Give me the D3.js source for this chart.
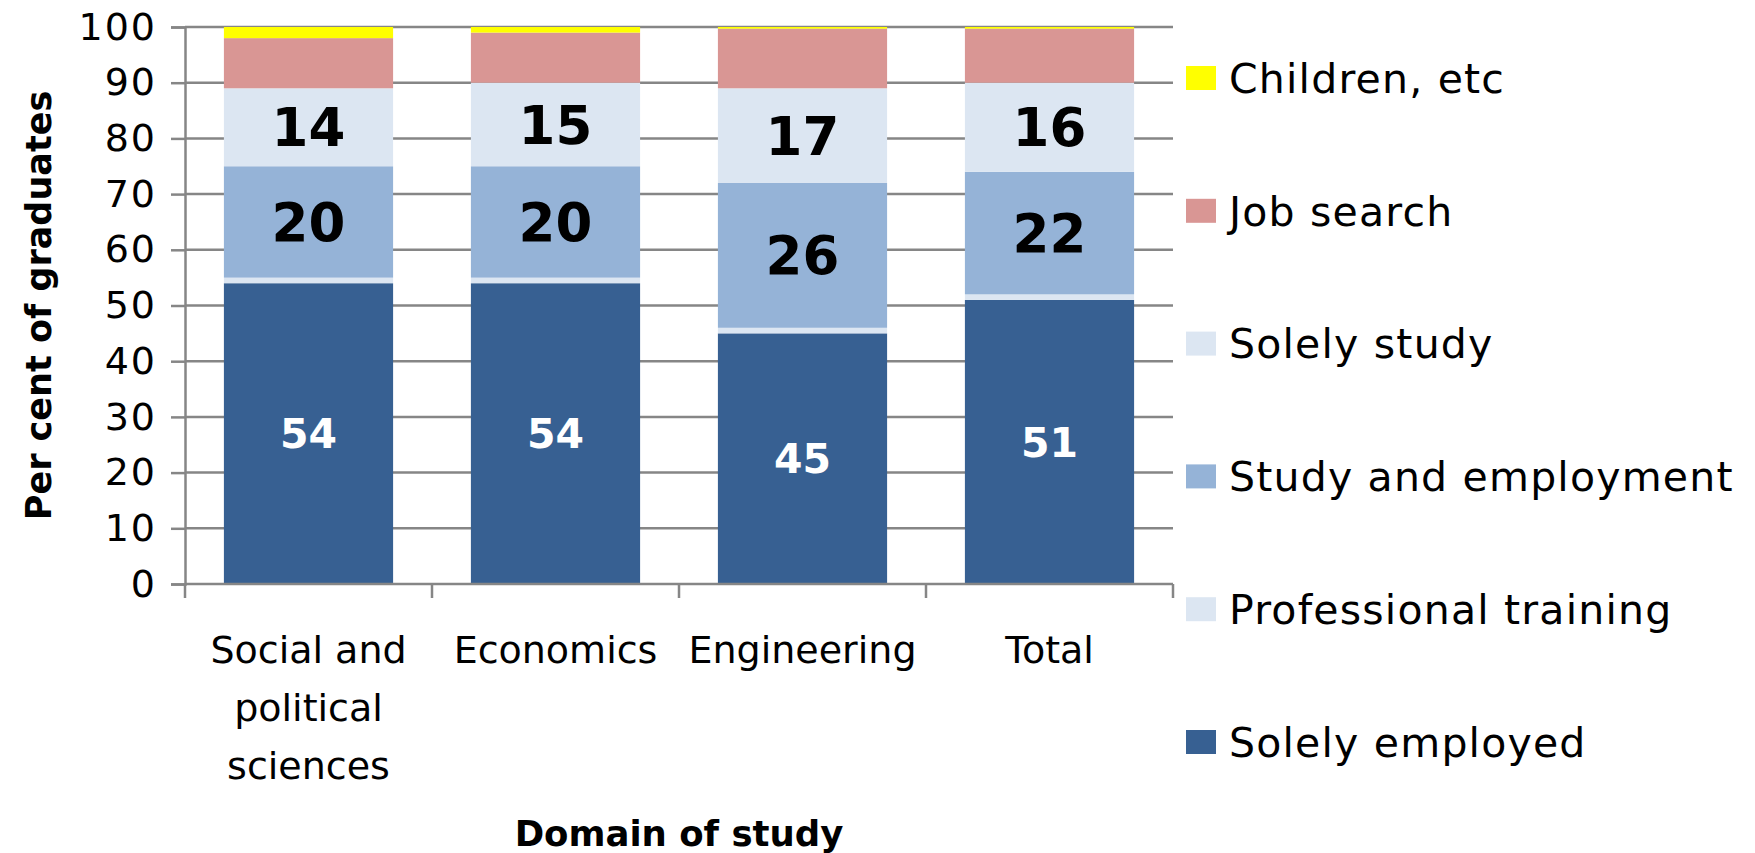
<!DOCTYPE html>
<html>
<head>
<meta charset="utf-8">
<script src="https://cdn.jsdelivr.net/npm/d3@7"></script>
<style>
  body { margin: 0; background: #fff; }
  text { font-family: "DejaVu Sans", sans-serif; }
</style>
</head>
<body>
<svg id="chart"></svg>
<script>
// categories and series (per cent of graduates)
var categories = ["Social and political sciences", "Economics", "Engineering", "Total"];
var solelyEmployed = [54, 54, 45, 51];
var professionalTraining = [1, 1, 1, 1];
var studyAndEmployment = [20, 20, 26, 22];
var solelyStudy = [14, 15, 17, 16];
var jobSearch = [9, 9, 10.7, 9.7];
var children = [2, 1, 0.3, 0.3];
var yTicks = [0, 10, 20, 30, 40, 50, 60, 70, 80, 90, 100];

var seriesNames = ["Solely employed", "Professional training", "Study and employment",
                   "Solely study", "Job search", "Children, etc"];
var seriesValues = [solelyEmployed, professionalTraining, studyAndEmployment,
                    solelyStudy, jobSearch, children];
var colors = ["#376092", "#dce6f2", "#95b3d7", "#dce6f2", "#d99694", "#ffff00"];
var labelled = { "Solely employed": "white", "Study and employment": "black", "Solely study": "black" };

var svg = d3.select("#chart")
    .attr("width", 1755)
    .attr("height", 853);

var pl = 185, pt = 27, pr = 1173, pb = 584;

var rows = categories.map(function(c, i) {
    var r = { cat: c };
    seriesNames.forEach(function(s, j) { r[s] = seriesValues[j][i]; });
    return r;
});

var stacked = d3.stack().keys(seriesNames)(rows);

var xScale = d3.scaleBand().domain(categories).range([pl, pr])
    .paddingInner(0.315).paddingOuter(0.1575);
var yScale = d3.scaleLinear().domain([0, 100]).range([pb, pt]);

// gridlines
svg.append("g")
   .selectAll("line")
   .data(yTicks.slice(1))
   .enter().append("line")
   .attr("x1", pl).attr("x2", pr)
   .attr("y1", function(d) { return yScale(d); })
   .attr("y2", function(d) { return yScale(d); })
   .attr("stroke", "#868686")
   .attr("stroke-width", 2.5);

// y axis
var yAxis = svg.append("g")
   .attr("transform", "translate(" + pl + ",0)")
   .call(d3.axisLeft(yScale).tickValues(yTicks).tickSize(14).tickPadding(14));
yAxis.selectAll("line").attr("stroke", "#868686").attr("stroke-width", 2.5);
yAxis.select(".domain").attr("stroke", "#868686").attr("stroke-width", 2.5);
yAxis.selectAll("text").attr("font-size", "38px").attr("fill", "#000")
     .attr("letter-spacing", "2px")
     .style("font-family", "'DejaVu Sans', sans-serif");

// bars
var layer = svg.append("g")
   .selectAll("g")
   .data(stacked)
   .enter().append("g")
   .attr("fill", function(d, i) { return colors[i]; });

layer.selectAll("rect")
   .data(function(d) { return d; })
   .enter().append("rect")
   .attr("x", function(d) { return xScale(d.data.cat); })
   .attr("y", function(d) { return yScale(d[1]); })
   .attr("width", xScale.bandwidth())
   .attr("height", function(d) { return yScale(d[0]) - yScale(d[1]); });

// value labels
stacked.forEach(function(s) {
    if (!labelled[s.key]) return;
    var white = labelled[s.key] === "white";
    svg.append("g")
       .selectAll("text")
       .data(s)
       .enter().append("text")
       .attr("x", function(d) { return xScale(d.data.cat) + xScale.bandwidth() / 2; })
       .attr("y", function(d) { return yScale((d[0] + d[1]) / 2); })
       .attr("dy", "0.36em")
       .attr("text-anchor", "middle")
       .attr("font-weight", "bold")
       .attr("font-size", white ? "41px" : "53px")
       .attr("fill", labelled[s.key])
       .text(function(d) { return Math.round(d[1] - d[0]); });
});

// x axis
var xAxisG = svg.append("g");
xAxisG.append("line")
   .attr("x1", pl).attr("x2", pr)
   .attr("y1", pb).attr("y2", pb)
   .attr("stroke", "#868686").attr("stroke-width", 2.5);
var step = xScale.step();
xAxisG.selectAll(".tk")
   .data(d3.range(categories.length + 1))
   .enter().append("line")
   .attr("x1", function(i) { return pl + i * step; })
   .attr("x2", function(i) { return pl + i * step; })
   .attr("y1", pb).attr("y2", pb + 14)
   .attr("stroke", "#868686").attr("stroke-width", 2.5);

var catLabels = xAxisG.selectAll(".cat")
   .data(categories)
   .enter().append("text")
   .attr("text-anchor", "middle")
   .attr("font-size", "38px")
   .attr("x", function(d) { return xScale(d) + xScale.bandwidth() / 2; })
   .attr("y", 663);

catLabels.each(function(d) {
    var t = d3.select(this), words = d.split(" "), line = [];
    var x = t.attr("x");
    var ts = t.append("tspan").attr("x", x).attr("dy", 0);
    words.forEach(function(w) {
        line.push(w);
        ts.text(line.join(" "));
        if (ts.node().getComputedTextLength() > step - 10 && line.length > 1) {
            line.pop();
            ts.text(line.join(" "));
            line = [w];
            ts = t.append("tspan").attr("x", x).attr("dy", "1.53em").text(w);
        }
    });
});

// axis titles
svg.append("text")
   .attr("x", (pl + pr) / 2)
   .attr("y", 846)
   .attr("text-anchor", "middle")
   .attr("font-size", "35.5px")
   .attr("font-weight", "bold")
   .text("Domain of study");

svg.append("text")
   .attr("transform", "translate(51," + ((pt + pb) / 2) + ") rotate(-90)")
   .attr("text-anchor", "middle")
   .attr("font-size", "35px")
   .attr("font-weight", "bold")
   .text("Per cent of graduates");

// legend, top to bottom in reverse stack order
var legend = svg.append("g")
   .selectAll("g")
   .data(seriesNames.slice().reverse())
   .enter().append("g")
   .attr("transform", function(d, i) { return "translate(1186," + (78 + i * 132.8) + ")"; });

legend.append("rect")
   .attr("x", 0).attr("y", -12)
   .attr("width", 30).attr("height", 24)
   .attr("fill", function(d) { return colors[seriesNames.indexOf(d)]; });

legend.append("text")
   .attr("x", 43)
   .attr("dy", "0.36em")
   .attr("font-size", "41px")
   .attr("letter-spacing", "1.2px")
   .text(function(d) { return d; });
</script>
</body>
</html>
